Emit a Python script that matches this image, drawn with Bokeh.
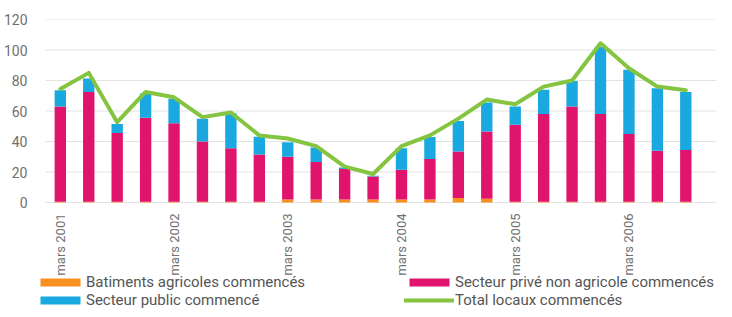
import math
from bokeh.plotting import figure
from bokeh.models import Range1d, FixedTicker, Legend, LegendItem, ColumnDataSource
from bokeh.core.properties import value
from bokeh.embed import file_html
from bokeh.resources import INLINE

# ---- data (quarterly, mars 2001 .. sept 2006) ----
periodes = [
    "mars 2001", "juin 2001", "sept 2001", "déc 2001",
    "mars 2002", "juin 2002", "sept 2002", "déc 2002",
    "mars 2003", "juin 2003", "sept 2003", "déc 2003",
    "mars 2004", "juin 2004", "sept 2004", "déc 2004",
    "mars 2005", "juin 2005", "sept 2005", "déc 2005",
    "mars 2006", "juin 2006", "sept 2006",
]
agricoles = [0.5, 0.5, 0.5, 0.5, 0.5, 0.5, 0.5, 0.5,
             2, 2, 2, 2, 2, 2, 3, 2.5,
             0.5, 0.5, 0.5, 0.5, 0.5, 0.5, 0.5]
prive = [62.5, 72, 45, 55, 51.5, 39.5, 35, 31, 28, 24.5, 20, 15,
         19.5, 26.5, 30.5, 44, 50.5, 57.5, 62.5, 57.5, 44.5, 33.5, 34]
public = [10.6, 8.8, 6, 16, 16, 15, 23, 11.6, 9.5, 9.6, 1, 0.5,
          14, 14.5, 20, 19, 12, 16, 16.6, 44, 42, 41, 38]
total = [74.5, 85, 52.7, 72.5, 69, 56, 59, 44, 42, 37, 23.5, 18.7,
         37, 44, 55, 67.5, 64.4, 76, 80, 104.4, 88, 76, 73.6]

legend_labels = ["Batiments agricoles commencés", "Secteur privé non agricole commencés",
                 "Secteur public commencé", "Total locaux commencés"]
tick_idx = list(range(0, len(periodes), 4))
tick_text = [periodes[i] for i in tick_idx]
y_ticks = [0, 20, 40, 60, 80, 100, 120]

x = list(range(len(periodes)))
src = ColumnDataSource(dict(x=x, agri=agricoles, prive=prive, public=public, total=total))
tick_src = ColumnDataSource(dict(x=tick_idx, y=[0] * len(tick_idx), text=tick_text))

C_AGRI = "#F7901E"
C_PRIVE = "#E0146D"
C_PUBLIC = "#1AA8E0"
C_TOTAL = "#84C440"
FONT = "Roboto"

# frame spans from the top of the value axis down to the bottom of the legend;
# the value 0 sits 107 px above the frame bottom (183 px for 120 units)
Y_MIN = -120 * 107 / 183
X_START, X_END = -0.873, 23.08
GRID_START = -0.524  # gridlines begin a little right of the frame edge
p = figure(width=716, height=309, output_backend="svg", toolbar_location=None,
           x_range=Range1d(X_START, X_END), y_range=Range1d(Y_MIN, 120),
           x_axis_location=None,
           min_border_left=30, min_border_right=0, min_border_top=19, min_border_bottom=0)
p.outline_line_color = None
p.background_fill_color = "white"
p.border_fill_color = "white"

# horizontal gridlines
p.xgrid.grid_line_color = None
p.ygrid.grid_line_color = None
p.segment(x0=GRID_START, x1=X_END, y0=y_ticks, y1=y_ticks,
          line_color="#e3e3e3", line_width=1.2)

bars = p.vbar_stack(["agri", "prive", "public"], x="x", width=0.4, source=src,
                    color=[C_AGRI, C_PRIVE, C_PUBLIC], line_color=None)
line = p.line("x", "total", source=src, line_color=C_TOTAL, line_width=4,
              line_join="round", line_cap="round")

p.yaxis.ticker = FixedTicker(ticks=y_ticks)
p.yaxis.axis_line_color = None
p.yaxis.major_tick_line_color = None
p.yaxis.minor_tick_line_color = None
p.yaxis.major_label_text_font = FONT
p.yaxis.major_label_text_font_size = "14px"
p.yaxis.major_label_text_color = "#707070"
p.yaxis.major_label_standoff = 2

# category labels under the bars (rotated, reading upwards)
p.text(x="x", y="y", text="text", source=tick_src, angle=math.pi / 2,
       text_align="right", text_baseline="middle", y_offset=11,
       text_font=value(FONT), text_font_size="13px", text_color="#707070")

def make_legend(items, loc):
    return Legend(items=items, location=loc, orientation="vertical",
                  glyph_width=50, glyph_height=10, label_height=12, label_standoff=1,
                  spacing=-5, padding=0, margin=0,
                  label_text_font=FONT, label_text_font_size="15px",
                  label_text_color="#555555",
                  border_line_color=None, background_fill_alpha=0)

lg1 = make_legend([LegendItem(label=legend_labels[0], renderers=[bars[0]]),
                   LegendItem(label=legend_labels[2], renderers=[bars[2]])], (0, 0))
lg2 = make_legend([LegendItem(label=legend_labels[1], renderers=[bars[1]]),
                   LegendItem(label=legend_labels[3], renderers=[line])], (369, 0))
p.add_layout(lg1, "center")
p.add_layout(lg2, "center")

open("out.html", "w").write(file_html(p, INLINE))
